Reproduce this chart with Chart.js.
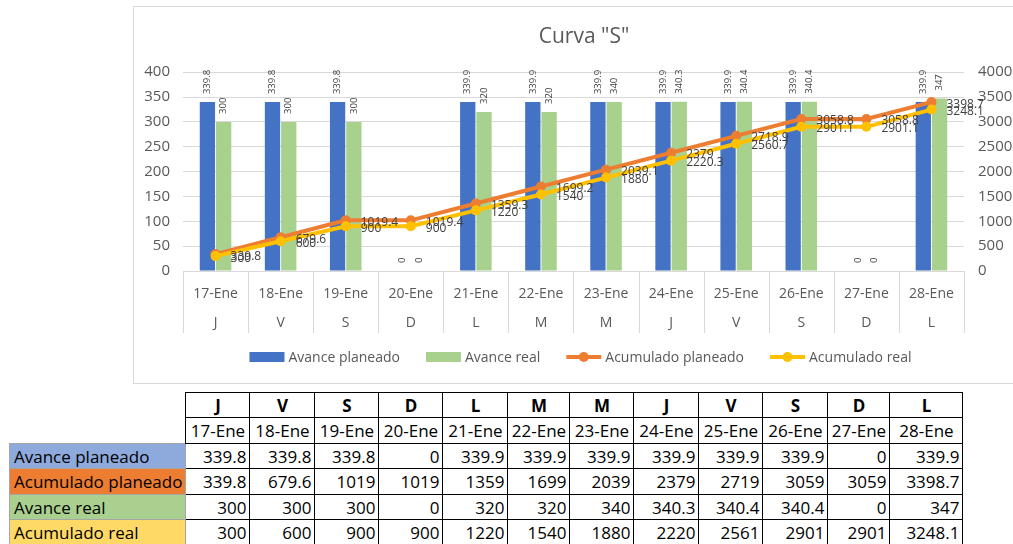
<!DOCTYPE html>
<html>
<head>
<meta charset="utf-8">
<script src="https://cdn.jsdelivr.net/npm/chart.js@4"></script>
<style>
  body { margin: 0; width: 1013px; height: 544px; overflow: hidden; background: #fff; font-family: "Open Sans", sans-serif; }
  #box { position: absolute; left: 133px; top: 6px; width: 900px; height: 376px; border: 1px solid #d9d9d9; background: #fff; }
  #box canvas { display: block; }
  #tabla { position: absolute; left: 9px; top: 392px; border-collapse: collapse; font-size: 17px; color: #000; table-layout: fixed; }
  #tabla td { padding: 0 3px; white-space: nowrap; overflow: hidden; line-height: 1; }
  #tabla td.n { border: 1px solid #000; text-align: right; }
  #tabla td.c { border: 1px solid #000; text-align: center; }
  #tabla td.b { font-weight: bold; }
  #tabla td.lab { border: 1px solid #a6a6a6; text-align: left; padding-left: 4px; }
</style>
</head>
<body>
<div id="box"><canvas id="grafico" width="900" height="376"></canvas></div>
<table id="tabla"></table>
<script>
const fechas = ['17-Ene', '18-Ene', '19-Ene', '20-Ene', '21-Ene', '22-Ene', '23-Ene', '24-Ene', '25-Ene', '26-Ene', '27-Ene', '28-Ene'];
const dias = ['J', 'V', 'S', 'D', 'L', 'M', 'M', 'J', 'V', 'S', 'D', 'L'];
const avancePlaneado = [339.8, 339.8, 339.8, 0, 339.9, 339.9, 339.9, 339.9, 339.9, 339.9, 0, 339.9];
const avanceReal = [300, 300, 300, 0, 320, 320, 340, 340.3, 340.4, 340.4, 0, 347];
const acumPlaneado = [339.8, 679.6, 1019.4, 1019.4, 1359.3, 1699.2, 2039.1, 2379, 2718.9, 3058.8, 3058.8, 3398.7];
const acumReal = [300, 600, 900, 900, 1220, 1540, 1880, 2220.3, 2560.7, 2901.1, 2901.1, 3248.1];
const ticksIzq = [0, 50, 100, 150, 200, 250, 300, 350, 400];
const ticksDer = [0, 500, 1000, 1500, 2000, 2500, 3000, 3500, 4000];

const AZUL = '#4472c4', VERDE = '#a9d18e', NARANJA = '#ed7d31', AMARILLO = '#ffc000';
const GRIS = '#595959', GRIS_LINEA = '#d9d9d9';
const FUENTE = '"Open Sans", sans-serif';

// etiquetas de datos (barras verticales, lineas a la derecha)
const etiquetas = {
  id: 'etiquetas',
  afterDatasetsDraw(chart) {
    const ctx = chart.ctx;
    ctx.save();
    ctx.fillStyle = '#404040';
    chart.data.datasets.forEach((ds, i) => {
      const meta = chart.getDatasetMeta(i);
      meta.data.forEach((el, j) => {
        const v = ds.data[j];
        if (ds.type === 'bar') {
          ctx.save();
          ctx.font = '9.5px ' + FUENTE;
          ctx.translate(el.x, el.y - 8);
          ctx.rotate(-Math.PI / 2);
          ctx.textAlign = 'left';
          ctx.textBaseline = 'middle';
          ctx.fillText(String(v), 0, 0);
          ctx.restore();
        } else {
          ctx.font = '12px ' + FUENTE;
          ctx.textAlign = 'left';
          ctx.textBaseline = 'middle';
          ctx.fillText(String(v), el.x + 15, el.y + 2);
        }
      });
    });
    ctx.restore();
  }
};

// separadores del eje de categorias de dos niveles
const separadores = {
  id: 'separadores',
  afterDraw(chart) {
    const x = chart.scales.x;
    const ctx = chart.ctx;
    const ancho = x.getPixelForValue(1) - x.getPixelForValue(0);
    ctx.save();
    ctx.strokeStyle = GRIS_LINEA;
    ctx.lineWidth = 1;
    for (let i = 0; i <= fechas.length; i++) {
      const px = Math.round(x.getPixelForValue(i) - ancho / 2) + 0.5;
      ctx.beginPath();
      ctx.moveTo(px, chart.chartArea.bottom);
      ctx.lineTo(px, chart.chartArea.bottom + 62);
      ctx.stroke();
    }
    ctx.restore();
  }
};

// leyenda al estilo Excel
const leyenda = {
  id: 'leyenda',
  afterDraw(chart) {
    const ctx = chart.ctx;
    ctx.save();
    ctx.font = '14px ' + FUENTE;
    const items = chart.data.datasets.map(ds => ({ texto: ds.label, color: ds.borderColor || ds.backgroundColor, linea: ds.type === 'line' }));
    const muestra = 35, hueco = 4, sep = 26;
    let total = 0;
    items.forEach((it, k) => { it.w = ctx.measureText(it.texto).width; total += muestra + hueco + it.w + (k ? sep : 0); });
    let px = (chart.chartArea.left + chart.chartArea.right) / 2 + 7 - total / 2;
    const py = 350;
    items.forEach(it => {
      if (it.linea) {
        ctx.strokeStyle = it.color;
        ctx.lineWidth = 4;
        ctx.beginPath();
        ctx.moveTo(px, py);
        ctx.lineTo(px + muestra, py);
        ctx.stroke();
        ctx.fillStyle = it.color;
        ctx.beginPath();
        ctx.arc(px + muestra / 2, py, 5, 0, Math.PI * 2);
        ctx.fill();
      } else {
        ctx.fillStyle = it.color;
        ctx.fillRect(px, py - 5, muestra, 10);
      }
      ctx.fillStyle = GRIS;
      ctx.textAlign = 'left';
      ctx.textBaseline = 'middle';
      ctx.fillText(it.texto, px + muestra + hueco, py + 1);
      px += muestra + hueco + it.w + sep;
    });
    ctx.restore();
  }
};

new Chart(document.getElementById('grafico'), {
  type: 'bar',
  data: {
    labels: fechas.map((f, i) => [f, dias[i]]),
    datasets: [
      { type: 'bar', label: 'Avance planeado', data: avancePlaneado, backgroundColor: AZUL, yAxisID: 'y', order: 2,
        categoryPercentage: 0.5, barPercentage: 0.94 },
      { type: 'bar', label: 'Avance real', data: avanceReal, backgroundColor: VERDE, yAxisID: 'y', order: 3,
        categoryPercentage: 0.5, barPercentage: 0.94 },
      { type: 'line', label: 'Acumulado planeado', data: acumPlaneado, borderColor: NARANJA, backgroundColor: NARANJA,
        borderWidth: 4, pointRadius: 5, pointBackgroundColor: NARANJA, pointBorderWidth: 0, yAxisID: 'y1', order: 1 },
      { type: 'line', label: 'Acumulado real', data: acumReal, borderColor: AMARILLO, backgroundColor: AMARILLO,
        borderWidth: 4, pointRadius: 5, pointBackgroundColor: AMARILLO, pointBorderWidth: 0, yAxisID: 'y1', order: 0 }
    ]
  },
  options: {
    responsive: false,
    animation: false,
    devicePixelRatio: 1,
    layout: { padding: { left: 0, right: 0, top: 0, bottom: 42 } },
    plugins: {
      legend: { display: false },
      tooltip: { enabled: false },
      title: {
        display: true,
        text: 'Curva "S"',
        color: GRIS,
        font: { family: FUENTE, size: 21, weight: 'normal', lineHeight: 1.2 },
        padding: { top: 17, bottom: 23 }
      }
    },
    scales: {
      x: {
        grid: { display: false },
        border: { display: false },
        ticks: { color: GRIS, font: { family: FUENTE, size: 14, lineHeight: 2.1 }, padding: 0, maxRotation: 0, autoSkip: false },
        afterFit(s) { s.height = 70; }
      },
      y: {
        position: 'left',
        min: 0, max: 400,
        afterBuildTicks(s) { s.ticks = ticksIzq.map(v => ({ value: v })); },
        grid: { color: GRIS_LINEA, drawTicks: false },
        border: { display: false },
        ticks: { color: GRIS, font: { family: FUENTE, size: 15 }, padding: 13, callback: v => String(v) },
        afterFit(s) { s.width = 49; }
      },
      y1: {
        position: 'right',
        min: 0, max: 4000,
        afterBuildTicks(s) { s.ticks = ticksDer.map(v => ({ value: v })); },
        grid: { drawOnChartArea: false, drawTicks: false },
        border: { display: false },
        ticks: { color: GRIS, font: { family: FUENTE, size: 15 }, padding: 14, callback: v => String(v) },
        afterFit(s) { s.width = 70; }
      }
    }
  },
  plugins: [etiquetas, separadores, leyenda]
});

// tabla de datos bajo el grafico
const anchos = [64, 65, 64, 64, 65, 62, 64, 65, 64, 65, 62, 73];
const altos = [25, 26, 25, 26, 25, 25];
const filas = [
  { nombre: 'Avance planeado', color: '#8ea9db', valores: avancePlaneado },
  { nombre: 'Acumulado planeado', color: '#ed7d31', valores: acumPlaneado },
  { nombre: 'Avance real', color: '#a9d08e', valores: avanceReal },
  { nombre: 'Acumulado real', color: '#ffd966', valores: acumReal }
];
// columnas estrechas: Excel redondea los valores de 4 cifras
function formato(v, i) {
  if (i < fechas.length - 1 && v >= 1000) return String(Math.round(v));
  return String(v);
}
const tabla = document.getElementById('tabla');
let html = '<colgroup><col style="width:175px">' + anchos.map(w => '<col style="width:' + w + 'px">').join('') + '</colgroup>';
html += '<tr style="height:' + altos[0] + 'px"><td></td>' + dias.map(d => '<td class="c b">' + d + '</td>').join('') + '</tr>';
html += '<tr style="height:' + altos[1] + 'px"><td></td>' + fechas.map(f => '<td class="c">' + f + '</td>').join('') + '</tr>';
filas.forEach((f, k) => {
  html += '<tr style="height:' + altos[k + 2] + 'px"><td class="lab" style="background:' + f.color + '">' + f.nombre + '</td>' +
    f.valores.map((v, i) => '<td class="n">' + formato(v, i) + '</td>').join('') + '</tr>';
});
tabla.innerHTML = html;
</script>
</body>
</html>
